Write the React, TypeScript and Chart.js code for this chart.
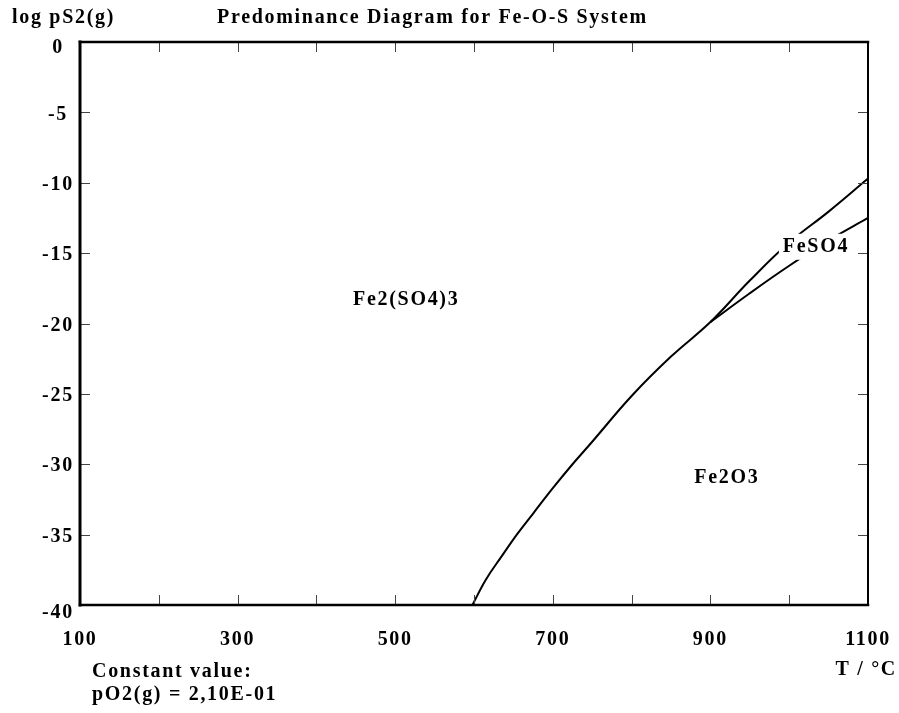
import React, { useEffect, useRef } from "react";
import { Chart, registerables } from "chart.js";

Chart.register(...registerables);

// ---- data ----
const xTickValues = [100, 200, 300, 400, 500, 600, 700, 800, 900, 1000, 1100];
const xTickLabels = ["100", "", "300", "", "500", "", "700", "", "900", "", "1100"];
const yTickValues = [0, -5, -10, -15, -20, -25, -30, -35, -40];
const yTickLabels = ["0", "-5", "-10", "-15", "-20", "-25", "-30", "-35", "-40"];

// Fe2(SO4)3 boundary (with Fe2O3 below the triple point, with FeSO4 above)
const upperT = [598, 615, 635, 655, 675, 700, 725, 750, 800, 850, 900, 950, 1000, 1050, 1100];
const upperLogP = [-40, -38.2, -36.55, -34.95, -33.5, -31.7, -30.0, -28.4, -25.15, -22.35, -19.9, -16.95, -14.25, -12.05, -9.7];

// FeSO4 / Fe2O3 boundary
const lowerT = [900, 950, 1000, 1050, 1100];
const lowerLogP = [-19.9, -17.85, -15.9, -14.1, -12.5];

const titleText = "Predominance Diagram for Fe-O-S System";
const yAxisTitle = "log pS2(g)";
const xAxisTitle = "T / °C";
const constLine1 = "Constant value:";
const constLine2 = "pO2(g) = 2,10E-01";

const regionNames = ["Fe2(SO4)3", "FeSO4", "Fe2O3"];
const regionT = [514, 1034, 921];
const regionLogP = [-18.3, -14.55, -31.0];

const FONT = 'bold 20px "Liberation Serif", "Times New Roman", serif';
const SPACING = "1.7px";

function drawText(ctx: CanvasRenderingContext2D, text: string, x: number, y: number, align: CanvasTextAlign) {
  ctx.save();
  ctx.font = FONT;
  (ctx as any).letterSpacing = SPACING;
  ctx.fillStyle = "#000";
  ctx.textBaseline = "middle";
  ctx.textAlign = align;
  ctx.fillText(text, x, y);
  ctx.restore();
}

const framePlugin = {
  id: "framePlugin",
  afterDatasetsDraw(chart: any) {
    const ctx: CanvasRenderingContext2D = chart.ctx;
    const xs = chart.scales.x;
    const ys = chart.scales.y;
    const a = chart.chartArea;

    // inward ticks
    ctx.save();
    ctx.strokeStyle = "#444";
    ctx.lineWidth = 1;
    ctx.beginPath();
    xTickValues.forEach((v) => {
      const px = Math.round(xs.getPixelForValue(v)) + 0.5;
      ctx.moveTo(px, a.top);
      ctx.lineTo(px, a.top + 10);
      ctx.moveTo(px, a.bottom);
      ctx.lineTo(px, a.bottom - 10);
    });
    yTickValues.forEach((v) => {
      const py = Math.round(ys.getPixelForValue(v)) + 0.5;
      ctx.moveTo(a.left, py);
      ctx.lineTo(a.left + 10, py);
      ctx.moveTo(a.right, py);
      ctx.lineTo(a.right - 10, py);
    });
    ctx.stroke();
    ctx.restore();

    // frame
    ctx.save();
    ctx.strokeStyle = "#000";
    ctx.lineCap = "square";
    ctx.lineWidth = 3;
    ctx.beginPath();
    ctx.moveTo(a.left, a.top);
    ctx.lineTo(a.left, a.bottom);
    ctx.stroke();
    ctx.lineWidth = 2.5;
    ctx.beginPath();
    ctx.moveTo(a.left, a.top);
    ctx.lineTo(a.right, a.top);
    ctx.moveTo(a.left, a.bottom);
    ctx.lineTo(a.right, a.bottom);
    ctx.stroke();
    ctx.lineWidth = 2;
    ctx.beginPath();
    ctx.moveTo(a.right, a.top);
    ctx.lineTo(a.right, a.bottom);
    ctx.stroke();
    ctx.restore();

    // tick labels
    yTickValues.forEach((v, i) => {
      let py = ys.getPixelForValue(v) + 2;
      if (i === 0) py = a.top + 6;
      if (i === yTickValues.length - 1) py = a.bottom + 8;
      drawText(ctx, yTickLabels[i], 58, py, "center");
    });
    xTickValues.forEach((v, i) => {
      if (!xTickLabels[i]) return;
      drawText(ctx, xTickLabels[i], xs.getPixelForValue(v), a.bottom + 35, "center");
    });

    // titles
    drawText(ctx, yAxisTitle, 12, 18, "left");
    drawText(ctx, titleText, 217, 18, "left");
    drawText(ctx, xAxisTitle, 897, 670, "right");
    drawText(ctx, constLine1, 92, 672, "left");
    drawText(ctx, constLine2, 92, 695, "left");

    // region names
    regionNames.forEach((name, i) => {
      const px = xs.getPixelForValue(regionT[i]);
      const py = ys.getPixelForValue(regionLogP[i]);
      if (name === "FeSO4") {
        ctx.save();
        ctx.font = FONT;
        (ctx as any).letterSpacing = SPACING;
        const w = ctx.measureText(name).width;
        ctx.fillStyle = "#fff";
        ctx.fillRect(px - w / 2 - 4, py - 13, w + 8, 26);
        ctx.restore();
      }
      drawText(ctx, name, px, py, "center");
    });
  },
};

export default function App() {
  const ref = useRef<HTMLCanvasElement | null>(null);
  useEffect(() => {
    if (!ref.current) return;
    const chart = new Chart(ref.current, {
      type: "line",
      data: {
        datasets: [
          {
            data: upperT.map((t, i) => ({ x: t, y: upperLogP[i] })),
            borderColor: "#000",
            borderWidth: 2,
            pointRadius: 0,
            tension: 0.4,
            fill: false,
          },
          {
            data: lowerT.map((t, i) => ({ x: t, y: lowerLogP[i] })),
            borderColor: "#000",
            borderWidth: 2,
            pointRadius: 0,
            tension: 0.4,
            fill: false,
          },
        ],
      },
      options: {
        responsive: false,
        animation: false,
        devicePixelRatio: 1,
        layout: { padding: { left: 80, right: 31, top: 42, bottom: 108 } },
        plugins: { legend: { display: false }, tooltip: { enabled: false }, title: { display: false } },
        scales: {
          x: { type: "linear", min: 100, max: 1100, display: false },
          y: { type: "linear", min: -40, max: 0, display: false },
        },
      },
      plugins: [framePlugin],
    } as any);
    return () => chart.destroy();
  }, []);
  return (
    <div style={{ position: "absolute", left: 0, top: 0, width: 899, height: 713, background: "#fff" }}>
      <canvas ref={ref} width={899} height={713} style={{ display: "block" }} />
    </div>
  );
}
